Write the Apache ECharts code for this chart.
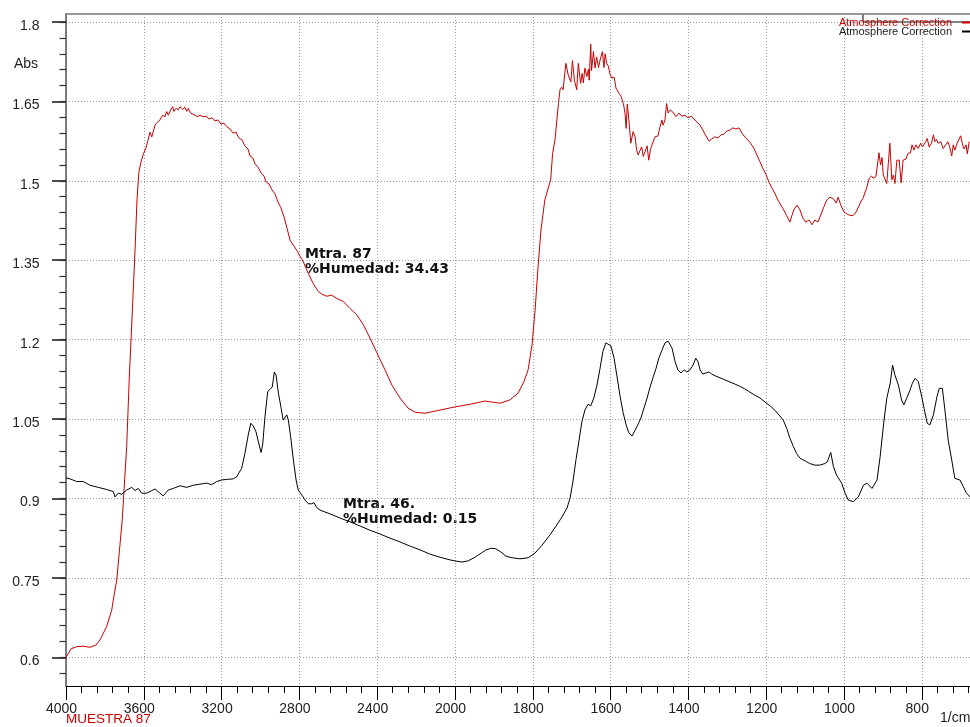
<!DOCTYPE html>
<html>
<head>
<meta charset="utf-8">
<script src="https://cdn.jsdelivr.net/npm/echarts@6/dist/echarts.min.js"></script>
<style>
  html, body { margin: 0; padding: 0; background: #ffffff; }
  #chart { width: 970px; height: 727px; }
</style>
</head>
<body>
<div id="chart"></div>
<script>
// FTIR absorbance spectra: [wavenumber (1/cm), absorbance]
const muestra87 = [
  [4000,0.600],[3974,0.616],[3945,0.620],[3913,0.621],[3877,0.619],[3846,0.623],[3825,0.633],[3791,0.658],
  [3765,0.689],[3757,0.708],[3739,0.746],[3711,0.859],[3688,0.998],[3675,1.124],[3661,1.237],[3645,1.369],
  [3635,1.464],[3625,1.517],[3614,1.536],[3604,1.549],[3589,1.562],[3578,1.577],[3568,1.592],[3559,1.583],
  [3542,1.605],[3534,1.609],[3517,1.615],[3503,1.624],[3491,1.621],[3482,1.631],[3474,1.624],[3462,1.634],
  [3451,1.640],[3445,1.631],[3434,1.637],[3423,1.634],[3414,1.640],[3400,1.635],[3388,1.639],[3379,1.631],
  [3371,1.637],[3359,1.628],[3349,1.631],[3337,1.624],[3325,1.621],[3311,1.624],[3296,1.621],[3280,1.622],
  [3265,1.617],[3249,1.619],[3234,1.613],[3219,1.615],[3203,1.607],[3188,1.609],[3172,1.602],[3157,1.598],
  [3141,1.590],[3126,1.592],[3111,1.581],[3095,1.577],[3080,1.566],[3064,1.560],[3054,1.547],[3039,1.543],
  [3028,1.532],[3013,1.526],[2997,1.515],[2982,1.509],[2972,1.498],[2956,1.494],[2941,1.483],[2925,1.475],
  [2910,1.460],[2895,1.449],[2879,1.432],[2864,1.411],[2848,1.388],[2814,1.369],[2780,1.347],[2754,1.325],
  [2729,1.306],[2703,1.291],[2685,1.286],[2660,1.282],[2634,1.284],[2608,1.278],[2574,1.272],[2540,1.259],
  [2505,1.247],[2471,1.228],[2437,1.203],[2396,1.171],[2360,1.143],[2324,1.114],[2283,1.090],[2242,1.071],
  [2206,1.063],[2154,1.061],[2077,1.067],[2000,1.073],[1961,1.078],[1923,1.084],[1884,1.080],[1859,1.086],
  [1838,1.099],[1823,1.120],[1812,1.143],[1802,1.190],[1794,1.256],[1787,1.332],[1779,1.407],[1769,1.464],
  [1754,1.502],[1749,1.552],[1743,1.577],[1734,1.646],[1730,1.672],[1726,1.677],[1722,1.672],[1715,1.722],
  [1709,1.700],[1704,1.703],[1702,1.687],[1698,1.727],[1693,1.690],[1687,1.672],[1683,1.722],[1677,1.684],
  [1673,1.703],[1670,1.685],[1666,1.713],[1661,1.697],[1657,1.711],[1655,1.690],[1651,1.758],[1649,1.708],
  [1644,1.744],[1640,1.713],[1636,1.734],[1631,1.714],[1627,1.728],[1621,1.744],[1617,1.714],[1614,1.740],
  [1610,1.722],[1606,1.717],[1602,1.703],[1597,1.694],[1591,1.696],[1586,1.675],[1582,1.673],[1578,1.665],
  [1573,1.659],[1567,1.646],[1563,1.628],[1560,1.599],[1557,1.645],[1553,1.615],[1548,1.571],[1542,1.593],
  [1537,1.583],[1533,1.558],[1529,1.549],[1524,1.558],[1520,1.564],[1516,1.546],[1512,1.543],[1506,1.566],
  [1502,1.539],[1497,1.561],[1492,1.558],[1486,1.583],[1478,1.585],[1473,1.602],[1468,1.615],[1465,1.605],
  [1460,1.615],[1456,1.646],[1452,1.628],[1447,1.634],[1440,1.630],[1432,1.621],[1424,1.628],[1417,1.622],
  [1409,1.624],[1401,1.619],[1393,1.622],[1386,1.617],[1378,1.611],[1370,1.605],[1363,1.596],[1355,1.585],
  [1347,1.575],[1340,1.579],[1332,1.583],[1324,1.581],[1316,1.587],[1309,1.588],[1301,1.594],[1293,1.596],
  [1286,1.600],[1278,1.598],[1270,1.600],[1262,1.590],[1255,1.583],[1247,1.577],[1239,1.570],[1232,1.562],
  [1224,1.549],[1216,1.536],[1209,1.524],[1201,1.513],[1193,1.498],[1185,1.486],[1178,1.477],[1170,1.464],
  [1162,1.454],[1155,1.445],[1147,1.434],[1139,1.422],[1134,1.434],[1129,1.445],[1121,1.454],[1113,1.445],
  [1106,1.430],[1098,1.422],[1090,1.426],[1082,1.417],[1075,1.426],[1067,1.422],[1059,1.437],[1051,1.452],
  [1044,1.464],[1036,1.469],[1027,1.466],[1020,1.458],[1015,1.469],[1008,1.454],[1000,1.441],[992,1.437],
  [985,1.435],[977,1.434],[969,1.441],[962,1.452],[957,1.460],[951,1.467],[942,1.486],[935,1.505],
  [929,1.509],[925,1.505],[918,1.508],[915,1.524],[910,1.553],[906,1.530],[902,1.544],[899,1.511],
  [895,1.508],[890,1.495],[886,1.533],[882,1.571],[877,1.502],[873,1.511],[869,1.495],[864,1.539],
  [858,1.539],[853,1.496],[848,1.539],[841,1.541],[835,1.552],[829,1.553],[825,1.568],[820,1.558],
  [815,1.568],[809,1.561],[803,1.571],[798,1.564],[792,1.571],[786,1.580],[781,1.564],[775,1.571],
  [770,1.587],[766,1.574],[762,1.578],[758,1.571],[751,1.574],[745,1.561],[738,1.568],[733,1.574],
  [728,1.564],[723,1.547],[719,1.568],[715,1.558],[709,1.571],[704,1.568],[700,1.585],[696,1.571],
  [691,1.560],[686,1.568],[683,1.551],[678,1.574]
];

const muestra46 = [
  [4000,0.939],[3979,0.937],[3945,0.932],[3911,0.932],[3877,0.925],[3834,0.921],[3791,0.917],[3757,0.913],
  [3748,0.903],[3731,0.910],[3714,0.908],[3688,0.916],[3662,0.921],[3645,0.915],[3628,0.919],[3611,0.910],
  [3585,0.910],[3559,0.915],[3542,0.918],[3520,0.911],[3500,0.905],[3474,0.916],[3448,0.919],[3414,0.924],
  [3379,0.921],[3346,0.925],[3311,0.927],[3277,0.929],[3251,0.926],[3225,0.932],[3199,0.935],[3174,0.936],
  [3140,0.937],[3122,0.941],[3114,0.944],[3105,0.952],[3097,0.957],[3080,0.985],[3063,1.020],[3050,1.042],
  [3037,1.037],[3023,1.026],[3011,1.007],[2997,0.987],[2989,1.001],[2977,1.054],[2963,1.102],[2951,1.106],
  [2939,1.111],[2929,1.139],[2920,1.133],[2908,1.099],[2895,1.073],[2883,1.048],[2874,1.051],[2865,1.058],
  [2857,1.048],[2845,1.017],[2831,0.973],[2817,0.935],[2806,0.916],[2788,0.907],[2771,0.897],[2754,0.890],
  [2737,0.890],[2725,0.892],[2711,0.883],[2694,0.878],[2643,0.871],[2591,0.863],[2540,0.856],[2488,0.848],
  [2437,0.840],[2386,0.833],[2334,0.825],[2283,0.818],[2231,0.810],[2180,0.803],[2129,0.795],[2077,0.789],
  [2026,0.784],[2000,0.782],[1982,0.780],[1967,0.782],[1951,0.788],[1936,0.795],[1920,0.803],[1907,0.806],
  [1895,0.805],[1882,0.799],[1869,0.791],[1853,0.788],[1833,0.786],[1812,0.788],[1794,0.797],[1776,0.812],
  [1756,0.831],[1740,0.848],[1725,0.865],[1712,0.882],[1704,0.901],[1697,0.931],[1689,0.973],[1681,1.010],
  [1674,1.044],[1666,1.067],[1658,1.078],[1651,1.075],[1643,1.090],[1635,1.114],[1627,1.146],[1620,1.177],
  [1612,1.194],[1607,1.197],[1599,1.188],[1591,1.165],[1584,1.133],[1576,1.095],[1568,1.063],[1560,1.039],
  [1553,1.024],[1545,1.018],[1537,1.029],[1530,1.039],[1522,1.052],[1514,1.071],[1506,1.090],[1499,1.109],
  [1491,1.128],[1483,1.146],[1476,1.165],[1468,1.180],[1460,1.194],[1452,1.197],[1447,1.196],[1442,1.184],
  [1434,1.158],[1427,1.143],[1419,1.137],[1411,1.143],[1404,1.139],[1396,1.143],[1388,1.152],[1381,1.165],
  [1375,1.158],[1370,1.143],[1363,1.135],[1355,1.137],[1347,1.139],[1340,1.135],[1329,1.131],[1319,1.128],
  [1306,1.124],[1293,1.120],[1280,1.116],[1268,1.112],[1255,1.107],[1242,1.101],[1229,1.095],[1216,1.090],
  [1203,1.082],[1190,1.075],[1178,1.067],[1165,1.056],[1156,1.048],[1147,1.032],[1139,1.014],[1130,0.998],
  [1122,0.985],[1113,0.976],[1100,0.971],[1088,0.966],[1075,0.963],[1062,0.963],[1049,0.966],[1043,0.969],
  [1034,0.987],[1027,0.960],[1019,0.944],[1006,0.929],[997,0.910],[989,0.897],[976,0.894],[963,0.903],
  [950,0.925],[941,0.929],[928,0.919],[915,0.935],[907,0.979],[898,1.042],[890,1.089],[881,1.118],
  [875,1.152],[869,1.133],[860,1.114],[852,1.086],[846,1.077],[839,1.089],[830,1.105],[824,1.118],
  [817,1.127],[809,1.121],[800,1.092],[794,1.070],[786,1.042],[779,1.039],[770,1.058],[761,1.092],
  [755,1.108],[747,1.108],[740,1.064],[732,1.010],[723,0.973],[715,0.938],[702,0.935],[693,0.922],
  [685,0.910],[676,0.903]
];

// Wavenumber tick labels (scale changes at 2000 1/cm: 400 per division above, 200 below)
const xTickLabels = ['4000','3600','3200','2800','2400','2000','1800','1600','1400','1200','1000','800'];
const yTickLabels = ['0.6','0.75','0.9','1.05','1.2','1.35','1.5','1.65','1.8'];

const seriesNames = ['MUESTRA 87', 'MUESTRA 46'];
const seriesColors = ['#c80000', '#000000'];

const WN_BREAK = 2000, WN_START = 4000, WN_END = 676;
function toAxis(wn) {
  return wn >= WN_BREAK ? (WN_START - wn) / 400 : (WN_START - WN_BREAK) / 400 + (WN_BREAK - wn) / 200;
}
const X_MAX = toAxis(WN_END);

const FONT = 'Liberation Sans, Arial, Helvetica, sans-serif';
const axisText = { color: '#222', fontSize: 14, fontFamily: FONT };
const gridDots = { color: '#9a9a9a', width: 1, type: [1, 2] };

const chart = echarts.init(document.getElementById('chart'), null, { renderer: 'canvas' });

const hiddenX = (gridIndex) => ({
  type: 'value', gridIndex, min: 0, max: 1, show: false
});

chart.setOption({
  animation: false,
  backgroundColor: '#ffffff',
  textStyle: { fontFamily: FONT },
  grid: [
    // plot area
    { left: 66, right: 0, top: 14, bottom: 41, outerBoundsMode: 'none', containLabel: false },
    // major absorbance ticks, 0.6 .. 1.8
    { left: 66, right: 0, top: 22, bottom: 69.7, outerBoundsMode: 'none', containLabel: false },
    // minor absorbance ticks, 0.57 .. 1.8
    { left: 66, right: 0, top: 22, bottom: 53.8, outerBoundsMode: 'none', containLabel: false }
  ],
  xAxis: [
    {
      type: 'value', gridIndex: 0, position: 'bottom', min: 0, max: X_MAX, interval: 1,
      axisLine: { show: true, onZero: false, lineStyle: { color: '#000', width: 1.2 } },
      axisTick: { show: true, length: 14, lineStyle: { color: '#000', width: 1 } },
      axisLabel: {
        show: true, margin: 16, ...axisText, padding: [0, 9, 0, 0],
        showMinLabel: true, showMaxLabel: false, hideOverlap: false,
        formatter: (v) => {
          const i = Math.round(v);
          return Math.abs(v - i) < 1e-6 && xTickLabels[i] ? xTickLabels[i] : '';
        }
      },
      splitLine: { show: true, lineStyle: gridDots }
    },
    {
      type: 'value', gridIndex: 0, position: 'bottom', min: 0, max: X_MAX, interval: 0.2,
      axisLine: { show: false, onZero: false },
      axisTick: { show: true, length: 7, lineStyle: { color: '#000', width: 1 } },
      axisLabel: { show: false },
      splitLine: { show: false }
    },
    {
      type: 'value', gridIndex: 0, position: 'top', min: 0, max: X_MAX,
      axisLine: { show: true, onZero: false, lineStyle: { color: '#777', width: 1.5 } },
      axisTick: { show: false }, axisLabel: { show: false }, splitLine: { show: false }
    },
    hiddenX(1),
    hiddenX(2)
  ],
  yAxis: [
    {
      type: 'value', gridIndex: 0, position: 'left', min: 0.5458, max: 1.8151,
      axisLine: { show: true, onZero: false, lineStyle: { color: '#555', width: 1.5 } },
      axisTick: { show: false }, axisLabel: { show: false }, splitLine: { show: false }
    },
    {
      type: 'value', gridIndex: 1, position: 'left', min: 0.6, max: 1.8, interval: 0.15,
      axisLine: { show: false, onZero: false },
      axisTick: { show: true, length: 14, lineStyle: { color: '#111', width: 1.5 } },
      axisLabel: {
        show: true, margin: 26.5, ...axisText, verticalAlign: 'top', lineHeight: 8,
        formatter: (v) => {
          const i = Math.round((v - 0.6) / 0.15);
          return yTickLabels[i] || '';
        }
      },
      splitLine: { show: true, lineStyle: gridDots }
    },
    {
      type: 'value', gridIndex: 2, position: 'left', min: 0.57, max: 1.8, interval: 0.03,
      axisLine: { show: false, onZero: false },
      axisTick: { show: true, length: 6.5, lineStyle: { color: '#333', width: 1.2 } },
      axisLabel: { show: false }, splitLine: { show: false }
    }
  ],
  legend: {
    show: true,
    orient: 'vertical',
    right: 0,
    top: 17,
    align: 'right',
    itemWidth: 8,
    itemHeight: 2,
    itemGap: -2,
    padding: 0,
    selectedMode: false,
    icon: 'rect',
    formatter: () => 'Atmosphere Correction',
    textStyle: { fontSize: 11, fontFamily: FONT, lineHeight: 9, padding: [0, 5, 0, 0] },
    data: [
      { name: seriesNames[0], textStyle: { color: seriesColors[0] } },
      { name: seriesNames[1], textStyle: { color: '#222' } }
    ]
  },
  series: [
    {
      name: seriesNames[0], type: 'line', xAxisIndex: 0, yAxisIndex: 0,
      showSymbol: false, symbol: 'none', silent: true,
      lineStyle: { color: seriesColors[0], width: 1 },
      itemStyle: { color: seriesColors[0] },
      data: muestra87.map(([wn, a]) => [toAxis(wn), a])
    },
    {
      name: seriesNames[1], type: 'line', xAxisIndex: 0, yAxisIndex: 0,
      showSymbol: false, symbol: 'none', silent: true,
      lineStyle: { color: seriesColors[1], width: 1 },
      itemStyle: { color: seriesColors[1] },
      data: muestra46.map(([wn, a]) => [toAxis(wn), a])
    }
  ],
  graphic: [
    { type: 'text', left: 14, top: 57, style: { text: 'Abs', fill: '#222', font: '14px ' + FONT } },
    { type: 'text', left: 66, top: 712, style: { text: 'MUESTRA 87', fill: seriesColors[0], font: '13.5px ' + FONT } },
    { type: 'text', left: 940, top: 711, style: { text: '1/cm', fill: '#222', font: '14px ' + FONT } },
    {
      type: 'text', left: 305, top: 247,
      style: { text: 'Mtra. 87\n%Humedad: 34.43', fill: '#111', font: 'bold 14px DejaVu Sans, sans-serif', lineHeight: 15 }
    },
    {
      type: 'text', left: 343, top: 497,
      style: { text: 'Mtra. 46.\n%Humedad: 0.15', fill: '#111', font: 'bold 14px DejaVu Sans, sans-serif', lineHeight: 15 }
    },
    {
      type: 'polyline', silent: true,
      shape: { points: [[863, 14], [863, 22], [970, 22]] },
      style: { stroke: '#000', lineWidth: 1, fill: null }
    }
  ]
});
</script>
</body>
</html>
